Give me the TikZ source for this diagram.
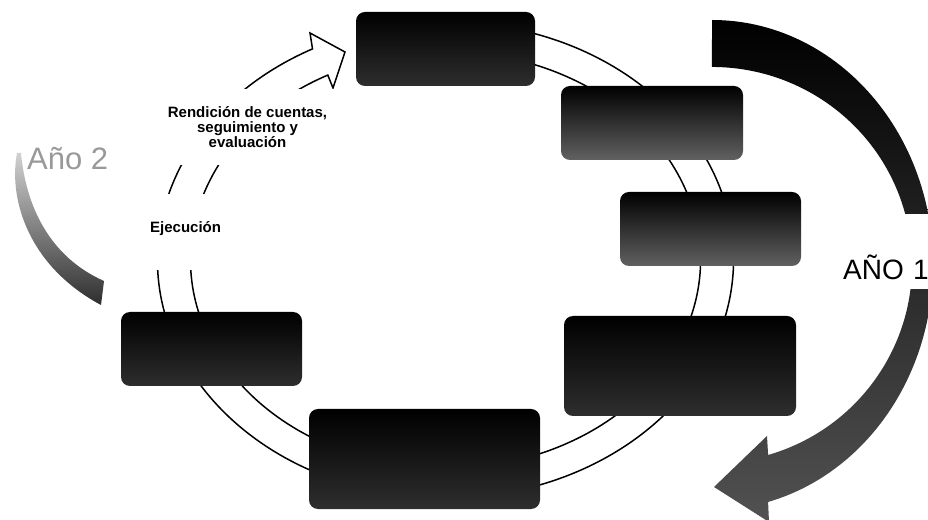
\documentclass[tikz,border=0pt]{standalone}
\usepackage{fontspec}
\setmainfont{Liberation Sans}
\begin{document}
\begin{tikzpicture}[x=1pt,y=1pt,
  cyclebox/.style={rounded corners=9pt, inner sep=0pt, draw=none, top color=black, middle color=black!97, bottom color=black!82},
  lightbox/.style={cyclebox, bottom color=black!62},
  ringline/.style={line width=1.5pt, fill=white, draw=black, line join=miter},
  lbl/.style={font=\bfseries\fontsize{15}{15}\selectfont, fill=white, inner sep=0pt}]
\useasboundingbox (0,0) rectangle (928,519);
\clip (0,0) rectangle (928,519);

% big "AÑO 1" arrow
\shade[top color=black, middle color=black!97, bottom color=black!68]
  (712,499) arc[start angle=90, end angle=-75.3, x radius=221pt, y radius=245pt]
  -- (769,-3) -- (714,32) -- (767,83) -- (768.1,64)
  arc[start angle=-73.7, end angle=90, x radius=200pt, y radius=198pt] -- cycle;

% "Año 2" arrow
\shade[top color=black!18, bottom color=black!82]
  (17,366) .. controls (8,318) and (30,252) .. (101,214)
  -- (104,238) .. controls (50,262) and (26,312) .. (21,366) -- cycle;

% cycle ring arrow
\draw[ringline]
  (495.5,493.4) arc[start angle=80, end angle=-242.5, x radius=288pt, y radius=238pt]
  -- (310,486) -- (345,467) -- (333,431) -- (327.8,443.9)
  arc[start angle=117.5, end angle=440, x radius=255pt, y radius=208.5pt] -- cycle;

% boxes
\node[cyclebox, minimum width=179pt, minimum height=74pt] (b1) at (445.5,470) {};
\node[lightbox, minimum width=182pt, minimum height=74pt] (b2) at (652,396) {};
\node[lightbox, minimum width=181pt, minimum height=74pt] (b3) at (710.5,290) {};
\node[cyclebox, minimum width=232pt, minimum height=100pt] (b4) at (680,153) {};
\node[cyclebox, minimum width=231pt, minimum height=100pt] (b5) at (424.5,60) {};
\node[cyclebox, minimum width=181pt, minimum height=74pt] (b6) at (211.5,170) {};

% labels
\node[lbl, align=center, minimum width=175pt, minimum height=76pt] (rend) at (247.5,392)
  {Rendición de cuentas,\\seguimiento y\\evaluación};
\node[lbl, anchor=base west, inner xsep=15pt, text width=95pt, text height=39pt, text depth=37pt] (ejec) at (135,286) {Ejecución};
\node[font=\fontsize{31}{31}\selectfont, text=black!40, anchor=base west, inner sep=0pt] (ano2) at (27,349) {Año 2};
\node[font=\fontsize{28}{28}\selectfont, fill=white, anchor=base west, inner sep=0pt, text height=66pt, text depth=9pt, text width=90pt] (ano1) at (843,239) {AÑO 1};
\end{tikzpicture}
\end{document}
